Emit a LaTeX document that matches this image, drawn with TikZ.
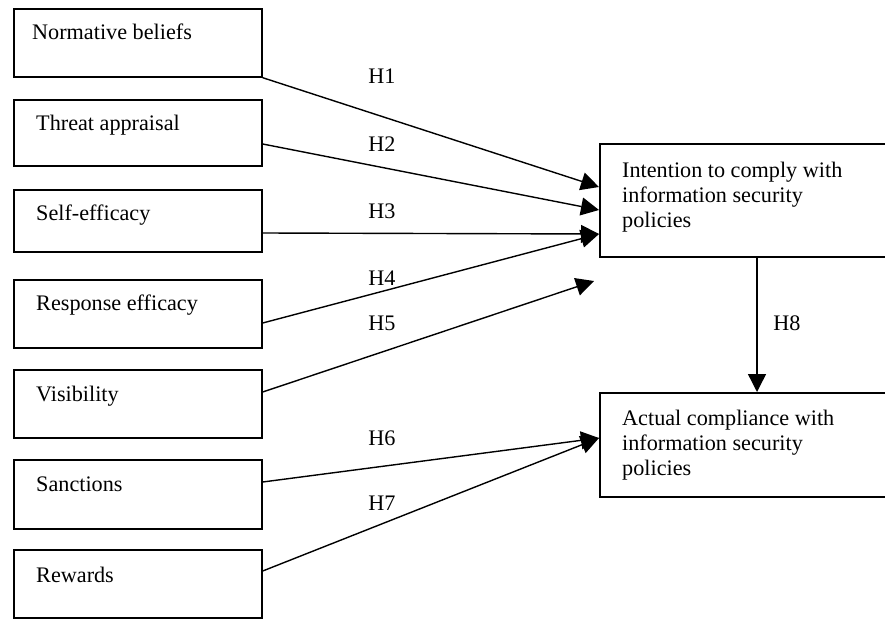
\documentclass[tikz,border=0pt]{standalone}
\usepackage{fontspec}
\setmainfont{Liberation Serif}
\usetikzlibrary{arrows.meta,calc}
\begin{document}
\begin{tikzpicture}[x=1pt,y=-1pt,
  box/.style={draw, line width=1.7pt, anchor=north west, inner sep=0pt, minimum width=248pt},
  txt/.style={anchor=base west, inner sep=0pt, font=\fontsize{22.2}{25}\selectfont},
  rtxt/.style={anchor=north west, inner sep=0pt, align=left, font=\fontsize{22.2}{25}\selectfont},
  hyp/.style={inner sep=0pt, font=\fontsize{22.2}{25}\selectfont},
  arr/.style={line width=1.4pt, -{Triangle[length=18pt,width=18pt]}}]
\useasboundingbox (0,0) rectangle (885,618);
\clip (0,0) rectangle (885,618);
% left boxes
\node[box, minimum height=68pt] (b1) at (13,8) {};
\node[box, minimum height=66pt] (b2) at (13,99) {};
\node[box, minimum height=62pt] (b3) at (13,189) {};
\node[box, minimum height=68pt] (b4) at (13,279) {};
\node[box, minimum height=68pt] (b5) at (13,369) {};
\node[box, minimum height=69pt] (b6) at (13,459) {};
\node[box, minimum height=68pt] (b7) at (13,549) {};
\node[txt] (t1) at (32,40) {Normative beliefs};
\node[txt] (t2) at (36,130) {Threat appraisal};
\node[txt] (t3) at (36,220) {Self-efficacy};
\node[txt] (t4) at (36,310) {Response efficacy};
\node[txt] (t5) at (36,401) {Visibility};
\node[txt] (t6) at (36,491) {Sanctions};
\node[txt] (t7) at (36,582) {Rewards};
% right boxes
\node[box, minimum width=295pt, minimum height=113pt] (int) at (599,143) {};
\node[box, minimum width=295pt, minimum height=104pt] (act) at (599,392) {};
\node[rtxt] (it) at (622,160) {\rule{0pt}{17pt}Intention to comply with\\information security\\policies};
\node[rtxt] (at) at (622,408) {\rule{0pt}{17pt}Actual compliance with\\information security\\policies};
% target points
\coordinate (i1) at ($(int.north west)+(0,44)$);
\coordinate (i2) at ($(int.north west)+(0,67)$);
\coordinate (i3) at ($(int.north west)+(0,91)$);
\coordinate (i5) at (594,281);
\coordinate (a1) at ($(act.north west)+(0,46)$);
% arrows
\draw[arr] (b1.south east) -- (i1);
\draw[arr] ($(b2.north east)+(0,45)$) -- (i2);
\draw[arr] ($(b3.north east)+(0,44)$) -- (i3);
\draw[arr] ($(b4.north east)+(0,44)$) -- (i3);
\draw[arr] ($(b5.north east)+(0,23)$) -- (i5);
\draw[arr] ($(b6.north east)+(0,23)$) -- (a1);
\draw[arr] ($(b7.north east)+(0,22)$) -- (a1);
\draw[arr] (int.south west -| 757,0) -- (act.north west -| 757,0);
% labels
\node[hyp] (h1) at (382,76) {H1};
\node[hyp] (h2) at (382,144) {H2};
\node[hyp] (h3) at (382,211) {H3};
\node[hyp] (h4) at (382,278) {H4};
\node[hyp] (h5) at (382,323) {H5};
\node[hyp] (h6) at (382,438) {H6};
\node[hyp] (h7) at (382,503) {H7};
\node[hyp] (h8) at (787,323) {H8};
\end{tikzpicture}
\end{document}
